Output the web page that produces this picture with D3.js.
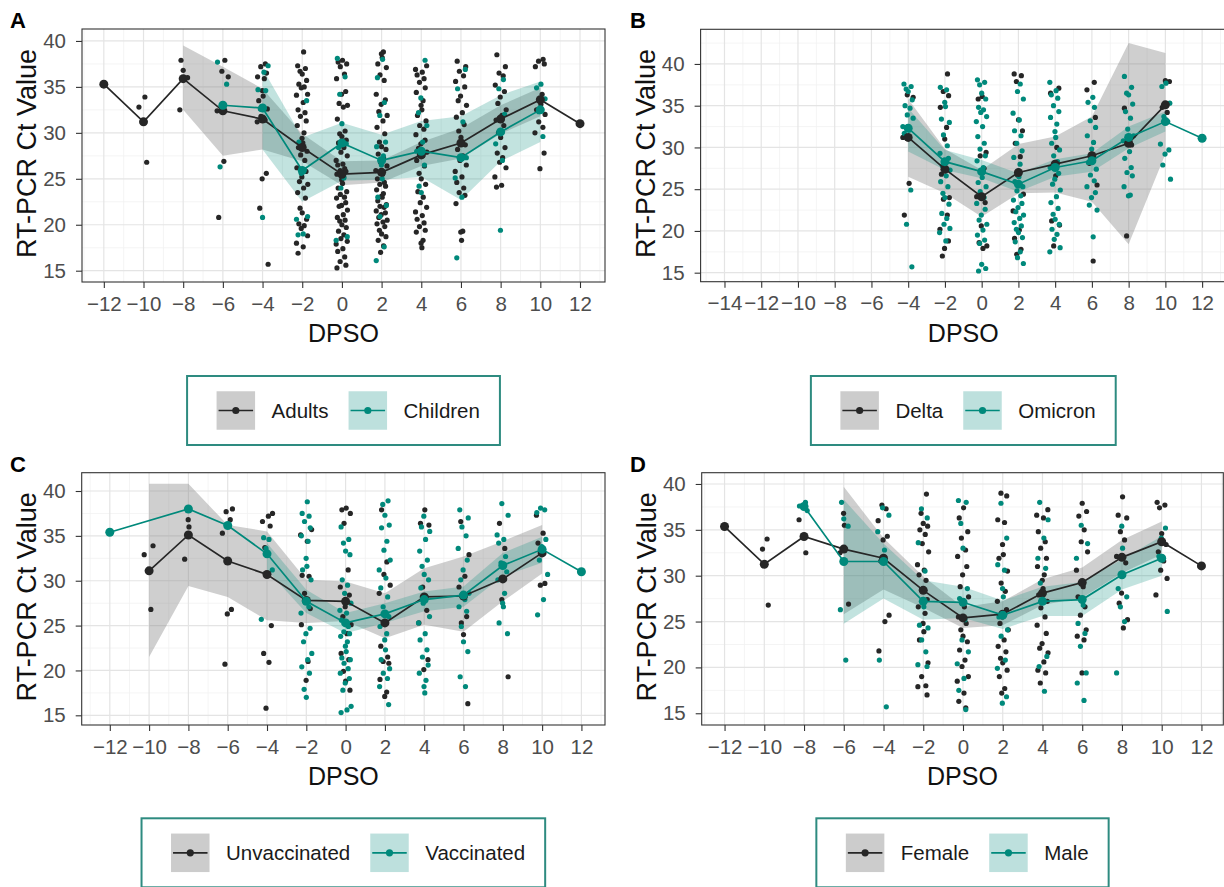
<!DOCTYPE html>
<html>
<head>
<meta charset="utf-8">
<script src="https://cdn.jsdelivr.net/npm/d3@7"></script>
<style>
  body { margin: 0; background: #fff; }
  svg { display: block; font-family: "Liberation Sans", Arial, sans-serif; }
</style>
</head>
<body>
<svg id="fig" width="1224" height="887"></svg>
<script>
// DPSO positions shared by the summary arrays (null = no summary there)
var dpso = [-12, -10, -8, -6, -4, -2, 0, 2, 4, 6, 8, 10, 12];

// ---- Panel A: Adults / Children
var adultsMean = [35.3, 31.2, 35.9, 32.4, 31.5, 28.4, 25.5, 25.7, 27.6, 28.9, 31.5, 33.6, 31.0];
var adultsLo   = [null, null, 32.5, 27.5, 28.2, 26.9, 24.3, 24.6, 26.4, 27.2, 29.9, 31.8, null];
var adultsHi   = [null, null, 39.5, 37.2, 34.8, 29.9, 26.9, 27.0, 29.0, 30.5, 33.0, 34.9, null];
var childrenMean = [null, null, null, 33.0, 32.7, 25.9, 28.9, 27.0, 28.0, 27.3, 30.1, 32.5, null];
var childrenLo   = [null, null, null, null, 28.2, 22.5, 24.8, 24.9, 25.2, 22.7, 26.9, 29.0, null];
var childrenHi   = [null, null, null, null, 37.0, 29.5, 31.1, 29.8, 31.3, 31.8, 34.1, 35.6, null];

var adultsCt = {
  "-12": [35.3],
  "-10": [33.9, 32.8, 26.8],
  "-8": [37.9, 36.8, 36.0, 32.5],
  "-6": [37.9, 36.7, 36.1, 32.4, 26.9, 20.8],
  "-4": [37.5, 37.2, 36.5, 36.1, 35.9, 34.6, 34.0, 33.5, 32.6, 31.8, 31.4, 31.2, 25.6, 25.0, 21.8, 15.7],
  "-2": [38.8, 37.3, 37.0, 36.7, 36.4, 35.7, 35.3, 35.0, 34.9, 34.2, 34.1, 33.3, 32.5, 32.2, 31.8, 31.3, 30.8, 30.0, 29.4, 28.9, 28.4, 28.0, 27.6, 27.0, 26.2, 25.8, 25.2, 24.7, 24.4, 24.0, 23.5, 22.9, 21.8, 21.3, 20.6, 20.1, 19.9, 19.6, 18.8, 18.0, 17.6, 16.9],
  "0": [37.9, 37.7, 37.5, 37.2, 36.4, 35.9, 34.5, 34.2, 33.2, 33.0, 32.8, 31.5, 30.2, 29.9, 29.6, 29.2, 28.9, 28.4, 27.9, 27.5, 27.0, 26.6, 26.5, 26.1, 25.9, 25.8, 25.5, 25.2, 24.9, 24.5, 24.0, 23.6, 23.3, 23.0, 22.9, 22.4, 22.1, 22.0, 21.6, 21.1, 20.8, 20.5, 20.4, 20.0, 19.7, 19.3, 18.9, 18.5, 18.2, 17.9, 17.4, 17.1, 16.5, 16.0, 15.6, 15.3],
  "2": [38.8, 38.6, 38.2, 37.5, 37.1, 36.3, 35.7, 34.2, 33.6, 33.1, 32.3, 31.9, 31.3, 30.6, 29.9, 29.0, 28.5, 28.2, 27.7, 27.3, 26.8, 26.4, 25.9, 25.5, 25.0, 24.6, 24.4, 24.2, 23.8, 23.4, 23.1, 23.0, 22.6, 22.2, 22.0, 21.9, 21.5, 21.3, 21.1, 20.8, 20.5, 20.3, 20.1, 19.8, 19.4, 19.0, 18.7, 18.3, 17.7, 17.0],
  "4": [37.3, 36.9, 36.6, 36.3, 35.9, 35.5, 34.9, 34.4, 33.5, 33.0, 32.5, 31.9, 31.3, 30.8, 30.4, 29.8, 29.2, 28.8, 28.3, 27.9, 27.5, 27.0, 26.4, 25.6, 25.0, 24.4, 23.6, 23.0, 22.4, 21.9, 21.4, 21.0, 20.6, 20.2, 19.8, 19.4, 19.2, 18.3, 18.0, 17.5],
  "6": [37.8, 37.2, 36.7, 36.2, 35.6, 35.0, 34.0, 33.5, 33.0, 32.2, 31.7, 30.9, 30.2, 29.5, 28.7, 28.2, 27.5, 27.0, 26.5, 25.8, 25.2, 24.6, 24.0, 23.5, 23.2, 22.3, 19.3, 19.2, 18.3],
  "8": [38.5, 37.2, 36.5, 36.2, 35.2, 34.5, 33.9, 33.2, 32.5, 31.9, 31.4, 30.8, 30.0, 29.5, 28.4, 27.8, 27.3, 26.8, 26.2, 25.2, 24.3, 24.1],
  "10": [38.0, 37.8, 37.5, 37.2, 34.2, 33.6, 33.1, 32.5, 32.0, 31.2, 30.6, 30.0, 27.8, 26.1],
  "12": [31.0]
};
var childrenCt = {
  "-6": [37.7, 35.3, 33.1, 26.3],
  "-4": [37.3, 36.6, 34.7, 34.6, 32.6, 20.8],
  "-2": [33.5, 29.0, 26.0, 25.6, 20.9, 20.6, 19.0, 18.9],
  "0": [38.1, 36.1, 34.2, 31.0, 28.8, 28.4, 25.1, 24.0, 18.7, 18.3],
  "2": [38.0, 36.0, 33.3, 31.9, 29.0, 28.5, 27.5, 26.5, 25.0, 23.0, 22.1, 20.9, 17.6, 16.1],
  "4": [37.9, 33.8, 32.2, 30.8, 29.0, 28.0, 26.5, 24.2, 23.5],
  "6": [36.9, 34.8, 31.2, 28.9, 27.3, 25.1, 23.0, 16.4],
  "8": [35.8, 34.8, 32.0, 28.8, 27.0, 19.4],
  "10": [35.3, 34.9, 33.7, 32.3, 29.6]
};

// ---- Panel B: Delta / Omicron
var deltaMean = [null, null, null, null, 31.2, 27.4, 24.1, 27.0, 28.0, 29.0, 30.5, 35.1, null];
var deltaLo   = [null, null, null, null, 26.5, 24.5, 21.7, 24.5, 24.6, 23.5, 18.4, 29.2, null];
var deltaHi   = [null, null, null, null, 35.8, 29.8, 27.3, 30.4, 31.3, 33.7, 42.5, 41.3, null];
var omicronMean = [null, null, null, null, 32.3, 28.3, 27.1, 25.6, 27.6, 28.4, 31.2, 33.1, 31.1];
var omicronLo   = [null, null, null, null, 29.5, 27.3, 26.3, 24.7, 26.5, 27.1, 29.9, 31.9, null];
var omicronHi   = [null, null, null, null, 34.7, 29.7, 28.5, 26.9, 28.6, 29.3, 32.5, 34.3, null];

var deltaCt = {
  "-4": [36.3, 36.0, 31.2, 25.7, 21.9],
  "-2": [38.8, 36.7, 36.2, 34.8, 32.4, 31.0, 27.2, 26.8, 24.0, 23.8, 21.9, 20.2, 18.8, 17.9, 17.0],
  "0": [36.1, 35.8, 29.4, 29.0, 27.5, 24.1, 23.4, 20.6, 18.6, 18.2, 17.9],
  "2": [38.8, 38.6, 37.9, 33.3, 32.0, 30.5, 28.9, 26.7, 24.4, 22.4, 20.1, 19.1, 17.8, 17.2],
  "4": [37.1, 36.5, 30.0, 27.9, 26.6, 21.2, 20.7, 18.2],
  "6": [37.8, 36.9, 33.6, 29.2, 28.1, 25.5, 16.4],
  "8": [34.7, 30.3, 19.4],
  "10": [38.0, 37.9, 34.8, 34.2]
};
var omicronCt = {
  "-4": [37.6, 37.3, 37.0, 36.7, 35.7, 35.0, 34.7, 33.9, 33.5, 32.5, 32.1, 31.7, 24.9, 20.8, 15.7],
  "-2": [37.2, 36.9, 35.4, 34.9, 33.4, 33.0, 31.5, 30.2, 29.3, 28.7, 28.2, 27.8, 27.3, 26.6, 25.9, 25.3, 24.5, 24.0, 23.2, 22.1, 21.5, 20.8, 20.3, 19.8, 18.8],
  "0": [38.1, 37.8, 37.5, 36.5, 35.8, 34.8, 34.5, 34.2, 33.7, 33.1, 32.5, 31.3, 30.5, 29.8, 29.0, 28.4, 27.6, 27.0, 26.4, 25.8, 25.3, 24.7, 24.0, 23.3, 22.6, 21.9, 21.3, 20.8, 20.1, 19.5, 18.9, 18.5, 16.0, 15.5, 15.2],
  "2": [37.6, 36.7, 35.8, 34.1, 33.3, 32.0, 31.4, 30.5, 29.6, 28.8, 28.0, 27.2, 26.5, 25.9, 25.3, 24.8, 24.2, 23.7, 23.3, 22.8, 22.3, 21.9, 21.5, 21.0, 20.6, 20.2, 19.8, 19.2, 18.7, 17.5, 16.8, 16.1],
  "4": [37.8, 36.8, 36.3, 35.9, 35.0, 34.3, 33.6, 32.8, 31.9, 31.2, 30.5, 29.7, 29.0, 28.3, 27.6, 26.9, 26.2, 25.6, 24.9, 24.1, 23.4, 22.7, 22.0, 21.4, 20.8, 20.2, 19.6, 19.0, 18.0, 17.5],
  "6": [36.0, 35.4, 34.8, 33.2, 32.4, 31.4, 30.6, 29.8, 29.0, 28.2, 27.4, 26.7, 26.0, 25.3, 24.6, 24.0, 23.1, 22.5, 19.3],
  "8": [38.5, 37.2, 36.5, 36.3, 35.2, 34.3, 33.5, 32.2, 31.4, 30.8, 29.5, 28.7, 27.6, 27.0, 26.6, 25.3, 24.3, 24.2],
  "10": [37.7, 37.3, 35.3, 33.7, 33.1, 30.4, 29.7, 29.2, 27.9, 26.2],
  "12": [31.1]
};

// ---- Panel C: Unvaccinated / Vaccinated
var unvaxMean = [null, 31.1, 35.1, 32.2, 30.7, 27.8, 27.7, 25.3, 28.2, 28.3, 30.2, 33.1, null];
var unvaxLo   = [null, 21.5, 29.4, 28.2, 25.6, 25.3, 25.5, 23.6, 25.1, 24.3, 27.7, 30.8, null];
var unvaxHi   = [null, 40.8, 40.8, 36.2, 35.5, 30.1, 29.9, 28.6, 31.4, 32.7, 34.4, 36.2, null];
var vaxMean = [35.4, null, 38.0, 36.15, 33.0, 27.7, 25.3, 26.3, 27.9, 28.4, 31.7, 33.5, 31.0];
var vaxLo   = [null, null, null, null, 31.2, 26.4, 24.15, 25.3, 26.6, 27.1, 30.5, 32.0, null];
var vaxHi   = [null, null, null, null, 34.2, 29.0, 26.4, 27.5, 28.8, 29.35, 33.1, 34.9, null];

var unvaxCt = {
  "-10": [33.9, 32.9, 26.8],
  "-8": [36.8, 36.0, 32.4],
  "-6": [38.0, 37.7, 36.8, 35.3, 26.8, 26.3, 20.7],
  "-4": [37.5, 37.2, 36.6, 36.1, 33.7, 30.7, 25.0, 21.9, 20.9, 15.8],
  "-2": [35.7, 35.1, 34.4, 30.6, 30.5, 28.6, 26.9, 25.1, 21.0, 18.9],
  "0": [38.1, 37.9, 37.5, 36.4, 31.2, 29.3, 28.4, 27.1, 26.0, 25.1, 24.1, 21.9, 21.2, 19.9, 18.8, 17.8],
  "2": [37.9, 32.1, 30.7, 29.5, 28.6, 25.3, 22.7, 21.5, 21.0, 20.8, 19.0, 17.6, 17.1],
  "4": [37.9, 36.4, 36.2, 29.3, 26.7, 25.3, 21.2, 20.1],
  "6": [36.6, 32.9, 30.5, 29.3, 26.0, 25.3, 24.0, 16.3],
  "8": [36.4, 33.6, 27.9, 19.3],
  "10": [37.3, 35.3, 34.2, 29.7, 29.5]
};
var vaxCt = {
  "-12": [35.4],
  "-8": [38.0],
  "-6": [36.2],
  "-4": [34.8, 34.6, 33.6, 31.2, 25.7],
  "-2": [38.8, 37.5, 37.2, 36.6, 35.9, 35.0, 34.4, 32.5, 31.6, 31.2, 30.1, 27.9, 27.1, 26.4, 24.7, 24.1, 23.2, 21.9, 21.2, 20.4, 19.7, 17.9, 17.0],
  "0": [36.0, 34.6, 34.2, 33.3, 32.9, 30.1, 29.5, 28.6, 27.5, 26.7, 26.4, 25.6, 24.9, 24.3, 24.1, 23.8, 23.2, 22.7, 22.1, 21.4, 21.2, 20.8, 20.2, 19.7, 19.1, 18.6, 17.8, 16.0, 15.6, 15.3],
  "2": [38.9, 38.5, 37.3, 36.2, 35.9, 34.4, 33.4, 32.3, 31.2, 30.3, 29.2, 28.2, 27.1, 26.0, 24.9, 24.1, 23.4, 22.3, 21.2, 20.2, 19.7, 19.1, 18.2, 16.2],
  "4": [37.2, 36.0, 35.5, 34.6, 33.3, 32.3, 31.6, 30.7, 30.1, 29.2, 28.2, 27.5, 26.0, 25.3, 24.1, 23.4, 22.3, 21.5, 20.6, 19.7, 18.9, 18.2, 17.5],
  "6": [37.9, 37.0, 36.0, 35.0, 33.6, 32.3, 31.2, 30.1, 28.6, 27.9, 27.1, 26.6, 24.9, 23.2, 22.1, 19.3, 18.2],
  "8": [38.6, 37.3, 35.1, 34.6, 34.2, 32.7, 32.0, 31.0, 30.1, 28.6, 27.5, 27.1, 25.3, 24.1],
  "10": [38.1, 37.9, 37.6, 34.6, 33.8, 32.3, 30.7, 27.9, 26.2],
  "12": [31.0]
};

// ---- Panel D: Female / Male
var femaleMean = [35.36, 31.25, 34.27, 32.9, 31.9, 28.4, 25.4, 25.8, 28.1, 29.25, 32.0, 33.7, 31.07];
var femaleLo   = [null, null, null, 25.8, 28.5, 26.5, 24.3, 24.6, 26.8, 27.6, 30.3, 32.3, null];
var femaleHi   = [null, null, null, 39.7, 34.1, 29.9, 26.6, 27.2, 29.6, 30.9, 33.9, 35.9, null];
var maleMean = [null, null, 37.55, 31.55, 31.55, 27.2, 27.1, 25.7, 27.2, 27.4, 30.1, 31.9, null];
var maleLo   = [null, null, null, 24.75, 27.5, 25.2, 25.4, 24.2, 25.6, 25.6, 28.5, 30.0, null];
var maleHi   = [null, null, null, 38.3, 33.5, 29.5, 28.8, 27.3, 28.8, 29.3, 31.8, 34.3, null];

var femaleCt = {
  "-12": [35.4],
  "-10": [34.0, 32.9, 26.8],
  "-8": [36.1, 32.5],
  "-6": [36.8, 35.5, 32.5, 26.9],
  "-4": [37.7, 37.3, 36.0, 34.3, 33.9, 31.6, 25.7, 25.0, 21.8],
  "-2": [38.9, 36.8, 35.7, 35.4, 35.0, 34.5, 33.5, 32.6, 31.2, 30.6, 30.1, 29.5, 28.5, 27.4, 26.6, 25.9, 24.8, 23.9, 23.0, 20.5, 19.0, 18.0, 17.9, 17.0],
  "0": [37.4, 36.3, 34.8, 34.1, 32.8, 32.1, 31.0, 30.1, 28.8, 27.7, 26.6, 25.5, 24.8, 24.1, 23.4, 22.8, 21.9, 20.8, 20.1, 19.0, 18.5, 17.2, 16.3, 15.6],
  "2": [39.0, 38.7, 36.1, 35.8, 33.4, 32.3, 31.9, 30.5, 29.2, 28.3, 27.2, 26.3, 25.5, 24.8, 24.1, 23.0, 22.3, 21.7, 21.0, 20.5, 19.7, 19.0, 17.7, 17.2],
  "4": [37.2, 36.6, 36.3, 34.8, 33.7, 33.0, 31.9, 31.0, 30.1, 29.5, 28.6, 27.9, 27.2, 26.5, 25.5, 24.6, 23.7, 22.6, 22.1, 21.6, 20.6, 19.7, 19.4, 18.3],
  "6": [37.9, 37.0, 36.5, 35.0, 33.7, 32.6, 30.6, 28.8, 27.7, 26.6, 25.7, 24.1, 23.4, 23.0, 19.4],
  "8": [38.6, 36.6, 36.3, 34.8, 33.9, 32.1, 31.4, 28.1, 27.0, 25.2, 24.3],
  "10": [38.0, 37.7, 37.4, 34.6, 33.4, 32.6, 31.6, 30.6, 29.7, 27.9],
  "12": [31.1]
};
var maleCt = {
  "-8": [38.0, 37.6, 37.1],
  "-6": [38.0, 36.2, 35.4, 26.3, 20.8],
  "-4": [37.4, 36.6, 34.8, 32.8, 20.8, 15.7],
  "-2": [37.3, 36.3, 33.6, 30.5, 27.4, 26.6, 24.6, 24.3, 23.0, 21.7, 20.3, 20.1],
  "0": [38.2, 38.0, 35.7, 33.0, 28.6, 27.5, 25.2, 23.0, 21.7, 20.4, 18.8, 17.5, 15.4],
  "2": [37.9, 34.1, 31.2, 30.6, 28.6, 27.7, 25.5, 24.1, 23.4, 20.8, 19.9, 16.8, 16.1],
  "4": [38.0, 36.1, 34.1, 31.9, 30.8, 29.2, 27.4, 21.2, 20.1, 17.4],
  "6": [35.5, 33.5, 31.9, 26.8, 24.8, 23.7, 22.3, 19.4, 18.3, 16.4],
  "8": [35.4, 33.0, 28.6, 27.7, 26.6, 25.0, 19.4],
  "10": [35.2, 34.1, 32.1, 26.1]
};

var yTicks = [15, 20, 25, 30, 35, 40];

// fixed horizontal spread for the jittered points (DPSO units)
var JITTER = [0.03, -0.19, 0.24, -0.08, 0.13, -0.27, 0.19, -0.02, -0.14, 0.28, 0.07, -0.23, 0.16, -0.11, 0.0,
              0.22, -0.17, 0.1, -0.05, 0.27, -0.29, 0.05, -0.21, 0.14, -0.09, 0.2, -0.25, 0.09, -0.01];

var DARK = "#262626", TEAL = "#00897b";
var FONT_TICK = 20.5, FONT_TITLE = 25;

var svg = d3.select("#fig");
svg.append("rect").attr("width", 1224).attr("height", 887).attr("fill", "#fff");

function summary(mean, lo, hi) {
  return dpso.map(function(d, i) { return {x: d, m: mean[i], lo: lo[i], hi: hi[i]}; });
}

function panel(p)
{
  var x = d3.scaleLinear().domain(p.xDom).range([p.left, p.right]);
  var y = d3.scaleLinear().domain(p.yDom).range([p.bottom, p.top]);
  var g = svg.append("g");

  var clipId = "clip" + p.letter;
  g.append("clipPath").attr("id", clipId)
    .append("rect")
    .attr("x", p.left).attr("y", p.top)
    .attr("width", p.right - p.left).attr("height", p.bottom - p.top);

  // grid
  var xMinor = [], yMinor = [];
  for (var k = p.xTicks[0] - 1; k <= p.xTicks[p.xTicks.length - 1] + 1; k += 2) xMinor.push(k);
  for (var j = 12.5; j <= 45; j += 5) yMinor.push(j);
  var grid = g.append("g").attr("clip-path", "url(#" + clipId + ")");
  grid.selectAll(".vminor").data(xMinor).enter().append("line")
    .attr("x1", function(d) { return x(d); }).attr("x2", function(d) { return x(d); })
    .attr("y1", p.top).attr("y2", p.bottom)
    .attr("stroke", "#f1f1f1").attr("stroke-width", 0.8);
  grid.selectAll(".hminor").data(yMinor).enter().append("line")
    .attr("y1", function(d) { return y(d); }).attr("y2", function(d) { return y(d); })
    .attr("x1", p.left).attr("x2", p.right)
    .attr("stroke", "#f1f1f1").attr("stroke-width", 0.8);
  grid.selectAll(".vmajor").data(p.xTicks).enter().append("line")
    .attr("x1", function(d) { return x(d); }).attr("x2", function(d) { return x(d); })
    .attr("y1", p.top).attr("y2", p.bottom)
    .attr("stroke", "#e4e4e4").attr("stroke-width", 1.2);
  grid.selectAll(".hmajor").data(yTicks).enter().append("line")
    .attr("y1", function(d) { return y(d); }).attr("y2", function(d) { return y(d); })
    .attr("x1", p.left).attr("x2", p.right)
    .attr("stroke", "#e4e4e4").attr("stroke-width", 1.2);

  var body = g.append("g").attr("clip-path", "url(#" + clipId + ")");

  // ribbons
  p.groups.forEach(function(grp) {
    var rows = summary(grp.mean, grp.lo, grp.hi).filter(function(d) { return d.lo != null; });
    var area = d3.area()
      .x(function(d) { return x(d.x); })
      .y0(function(d) { return y(d.lo); })
      .y1(function(d) { return y(d.hi); });
    body.append("path").datum(rows)
      .attr("d", area)
      .attr("fill", grp.ribbon)
      .attr("fill-opacity", grp.ribbonOpacity);
  });

  // jittered observations
  p.groups.forEach(function(grp, gi) {
    var pts = [];
    var n = 0;
    Object.keys(grp.ct).forEach(function(key) {
      var vals = grp.ct[key];
      vals.forEach(function(v) {
        var off = vals.length > 1 ? JITTER[(n + gi * 11) % JITTER.length] : 0;
        pts.push({x: +key + off, y: v});
        n++;
      });
    });
    body.append("g").selectAll("circle").data(pts).enter().append("circle")
      .attr("cx", function(d) { return x(d.x); })
      .attr("cy", function(d) { return y(d.y); })
      .attr("r", 2.6)
      .attr("fill", grp.color);
  });

  // mean lines and points
  p.groups.forEach(function(grp) {
    var rows = summary(grp.mean, grp.lo, grp.hi).filter(function(d) { return d.m != null; });
    var line = d3.line()
      .x(function(d) { return x(d.x); })
      .y(function(d) { return y(d.m); });
    body.append("path").datum(rows)
      .attr("d", line)
      .attr("fill", "none")
      .attr("stroke", grp.color)
      .attr("stroke-width", 1.7);
    body.append("g").selectAll("circle").data(rows).enter().append("circle")
      .attr("cx", function(d) { return x(d.x); })
      .attr("cy", function(d) { return y(d.m); })
      .attr("r", 4.5)
      .attr("fill", grp.color);
  });

  // border
  g.append("rect")
    .attr("x", p.left).attr("y", p.top)
    .attr("width", p.right - p.left).attr("height", p.bottom - p.top)
    .attr("fill", "none").attr("stroke", "#333").attr("stroke-width", 1.1);

  // axes
  var xAxis = g.append("g")
    .attr("transform", "translate(0," + p.bottom + ")")
    .call(d3.axisBottom(x).tickValues(p.xTicks).tickSize(6).tickPadding(8));
  var yAxis = g.append("g")
    .attr("transform", "translate(" + p.left + ",0)")
    .call(d3.axisLeft(y).tickValues(yTicks).tickSize(6).tickPadding(10));
  [xAxis, yAxis].forEach(function(ax) {
    ax.select(".domain").remove();
    ax.selectAll(".tick line").attr("stroke", "#333").attr("stroke-width", 1.1);
    ax.selectAll(".tick text")
      .attr("fill", "#4d4d4d")
      .style("font-size", FONT_TICK + "px")
      .style("font-family", "Liberation Sans, Arial, sans-serif");
  });

  // titles
  g.append("text")
    .attr("x", (p.left + p.right) / 2)
    .attr("y", p.bottom + 60)
    .attr("text-anchor", "middle")
    .style("font-size", FONT_TITLE + "px")
    .attr("fill", "#111")
    .text("DPSO");
  g.append("text")
    .attr("transform", "translate(" + (p.left - 46) + "," + ((p.top + p.bottom) / 2 - 2) + ") rotate(-90)")
    .attr("text-anchor", "middle")
    .style("font-size", (FONT_TITLE + 2) + "px")
    .attr("fill", "#111")
    .text("RT-PCR Ct Value");

  g.append("text")
    .attr("x", p.letterX).attr("y", p.top - 1)
    .style("font-size", "22px")
    .style("font-weight", "bold")
    .attr("fill", "#000")
    .text(p.letter);

  legend((p.left + p.right) / 2, p.legendTop, p.groups);
}

function legend(cx, top, groups)
{
  var lg = svg.append("g");
  var xPos = 29.5, keySize = 38.5, boxH = 69;
  var keyY = (boxH - keySize) / 2;
  groups.forEach(function(grp, i) {
    if (i > 0) xPos += 20;
    lg.append("rect")
      .attr("x", xPos).attr("y", keyY)
      .attr("width", keySize).attr("height", keySize)
      .attr("fill", grp.ribbon).attr("fill-opacity", grp.ribbonOpacity + 0.02);
    lg.append("line")
      .attr("x1", xPos + 2).attr("x2", xPos + keySize - 2)
      .attr("y1", boxH / 2).attr("y2", boxH / 2)
      .attr("stroke", grp.color).attr("stroke-width", 1.7);
    lg.append("circle")
      .attr("cx", xPos + keySize / 2).attr("cy", boxH / 2)
      .attr("r", 3.6).attr("fill", grp.color);
    var t = lg.append("text")
      .attr("x", xPos + keySize + 16.5).attr("y", boxH / 2 + 7.3)
      .style("font-size", "20.5px")
      .attr("fill", "#1a1a1a")
      .text(grp.name);
    xPos += keySize + 16.5 + t.node().getComputedTextLength();
  });
  var boxW = xPos + 20;
  lg.insert("rect", ":first-child")
    .attr("x", 0).attr("y", 0)
    .attr("width", boxW).attr("height", boxH)
    .attr("fill", "#fff")
    .attr("stroke", "#2e8b80").attr("stroke-width", 2);
  lg.attr("transform", "translate(" + (cx - boxW / 2) + "," + top + ")");
}

var evenTicks12 = [-12, -10, -8, -6, -4, -2, 0, 2, 4, 6, 8, 10, 12];
var evenTicks14 = [-14, -12, -10, -8, -6, -4, -2, 0, 2, 4, 6, 8, 10, 12];

function grey(name, ct, mean, lo, hi) {
  return {name: name, ct: ct, mean: mean, lo: lo, hi: hi, color: DARK, ribbon: "#808080", ribbonOpacity: 0.38};
}
function teal(name, ct, mean, lo, hi) {
  return {name: name, ct: ct, mean: mean, lo: lo, hi: hi, color: TEAL, ribbon: TEAL, ribbonOpacity: 0.24};
}

panel({
  letter: "A", letterX: 10,
  left: 82, right: 605, top: 29, bottom: 282,
  xDom: [-13.1, 13.26], yDom: [13.77, 41.3], xTicks: evenTicks12,
  legendTop: 376,
  groups: [grey("Adults", adultsCt, adultsMean, adultsLo, adultsHi),
           teal("Children", childrenCt, childrenMean, childrenLo, childrenHi)]
});
panel({
  letter: "B", letterX: 630,
  left: 700.6, right: 1226, top: 29.3, bottom: 281.7,
  xDom: [-15.3, 13.3], yDom: [13.92, 44.15], xTicks: evenTicks14,
  legendTop: 376,
  groups: [grey("Delta", deltaCt, deltaMean, deltaLo, deltaHi),
           teal("Omicron", omicronCt, omicronMean, omicronLo, omicronHi)]
});
panel({
  letter: "C", letterX: 10,
  left: 81.7, right: 605, top: 472.7, bottom: 725,
  xDom: [-13.43, 13.2], yDom: [13.92, 42.04], xTicks: evenTicks12,
  legendTop: 818.3,
  groups: [grey("Unvaccinated", unvaxCt, unvaxMean, unvaxLo, unvaxHi),
           teal("Vaccinated", vaxCt, vaxMean, vaxLo, vaxHi)]
});
panel({
  letter: "D", letterX: 630,
  left: 701.7, right: 1223.3, top: 472.7, bottom: 725,
  xDom: [-13.15, 13.1], yDom: [13.72, 41.23], xTicks: evenTicks12,
  legendTop: 818.3,
  groups: [grey("Female", femaleCt, femaleMean, femaleLo, femaleHi),
           teal("Male", maleCt, maleMean, maleLo, maleHi)]
});
</script>
</body>
</html>
